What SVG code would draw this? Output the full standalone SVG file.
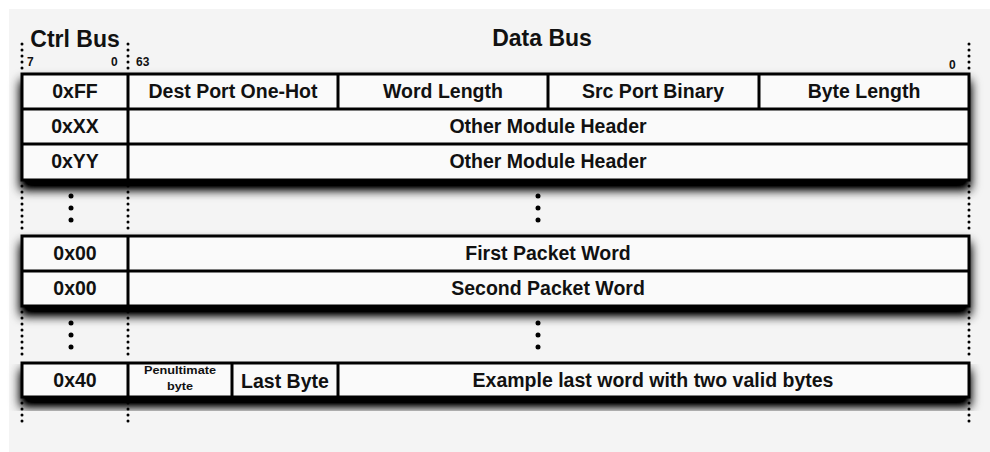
<svg xmlns="http://www.w3.org/2000/svg" width="990" height="452" viewBox="0 0 990 452">
<defs>
<filter id="sh" x="-5%" y="-20%" width="110%" height="160%">
<feGaussianBlur in="SourceAlpha" stdDeviation="5.5"/>
<feOffset dx="0" dy="8" result="b"/>
<feComponentTransfer><feFuncA type="linear" slope="1.3"/></feComponentTransfer>
<feMerge><feMergeNode/><feMergeNode in="SourceGraphic"/></feMerge>
</filter>
</defs>
<style>
.cell{fill:#fafafa;stroke:#000;stroke-width:3}
.t{font-family:"Liberation Sans",Arial,sans-serif;font-weight:bold;font-size:19.5px;fill:#111;text-anchor:middle}
.h{font-family:"Liberation Sans",Arial,sans-serif;font-weight:bold;font-size:23px;fill:#111;text-anchor:middle}
.b{font-family:"Liberation Sans",Arial,sans-serif;font-weight:bold;font-size:12px;fill:#111}
.s{font-family:"Liberation Sans",Arial,sans-serif;font-weight:bold;font-size:10px;fill:#111;text-anchor:middle}
.dot{stroke:#000;stroke-width:3;stroke-linecap:round;stroke-dasharray:0 6;fill:none}
.d{fill:#000}
</style>
<rect x="9" y="9" width="981" height="443" fill="#f4f4f4"/>

<g id="headers">
<text class="h" x="75" y="47">Ctrl Bus</text>
<text class="h" x="542" y="46">Data Bus</text>
<text class="b" x="27" y="66">7</text>
<text class="b" x="111" y="66">0</text>
<text class="b" x="136" y="66">63</text>
<text class="b" x="949" y="69">0</text>
</g>

<g id="connectors">
<path class="dot" d="M22 44V72M128 44V72M969 44V72"/>
<path class="dot" d="M22 186V234M128 186V234M969 186V234"/>
<path class="dot" d="M22 312V360M128 312V360M969 312V360"/>
<path class="dot" d="M22 403V425M128 403V425M969 403V425"/>
<circle class="d" cx="71" cy="196" r="2.5"/><circle class="d" cx="71" cy="208" r="2.5"/><circle class="d" cx="71" cy="220" r="2.5"/>
<circle class="d" cx="538" cy="196" r="2.5"/><circle class="d" cx="538" cy="208" r="2.5"/><circle class="d" cx="538" cy="220" r="2.5"/>
<circle class="d" cx="71" cy="323" r="2.5"/><circle class="d" cx="71" cy="335" r="2.5"/><circle class="d" cx="71" cy="347" r="2.5"/>
<circle class="d" cx="538" cy="323" r="2.5"/><circle class="d" cx="538" cy="335" r="2.5"/><circle class="d" cx="538" cy="347" r="2.5"/>
</g>

<g id="block1" filter="url(#sh)">
<rect class="cell" x="22" y="74" width="947" height="106"/>
<path d="M22 109H969M22 144H969M128 74V180M338 74V109M548 74V109M759 74V109" stroke="#000" stroke-width="3" fill="none"/>
</g>
<g id="row-ff">
<text class="t" x="75" y="98">0xFF</text>
<text class="t" x="233" y="98">Dest Port One-Hot</text>
<text class="t" x="443" y="98">Word Length</text>
<text class="t" x="653" y="98">Src Port Binary</text>
<text class="t" x="864" y="98">Byte Length</text>
</g>
<g id="row-xx">
<text class="t" x="75" y="133">0xXX</text>
<text class="t" x="548" y="133">Other Module Header</text>
</g>
<g id="row-yy">
<text class="t" x="75" y="168">0xYY</text>
<text class="t" x="548" y="168">Other Module Header</text>
</g>

<g id="block2" filter="url(#sh)">
<rect class="cell" x="22" y="236" width="947" height="70"/>
<path d="M22 271H969M128 236V306" stroke="#000" stroke-width="3" fill="none"/>
</g>
<g id="row-first">
<text class="t" x="75" y="260">0x00</text>
<text class="t" x="548" y="260">First Packet Word</text>
</g>
<g id="row-second">
<text class="t" x="75" y="295">0x00</text>
<text class="t" x="548" y="295">Second Packet Word</text>
</g>

<g id="block3" filter="url(#sh)">
<rect class="cell" x="22" y="363" width="947" height="34"/>
<path d="M128 363V397M232 363V397M338 363V397" stroke="#000" stroke-width="3" fill="none"/>
</g>
<g id="row-last">
<text class="t" x="75" y="387">0x40</text>
<text class="s" x="180" y="374" textLength="72" lengthAdjust="spacingAndGlyphs">Penultimate</text>
<text class="s" x="180" y="390" textLength="26" lengthAdjust="spacingAndGlyphs">byte</text>
<text class="t" x="285" y="388">Last Byte</text>
<text class="t" x="653" y="387">Example last word with two valid bytes</text>
</g>
</svg>
